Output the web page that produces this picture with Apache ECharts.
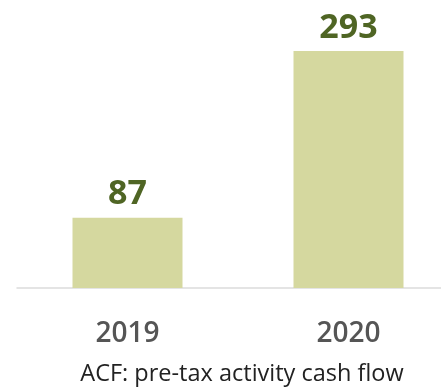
<!DOCTYPE html>
<html>
<head>
<meta charset="utf-8">
<script src="https://cdn.jsdelivr.net/npm/echarts@6/dist/echarts.min.js"></script>
<style>
  html, body { margin: 0; padding: 0; background: #fff; }
  #main { width: 441px; height: 388px; }
</style>
</head>
<body>
<div id="main"></div>
<script>
// 年份与数值
var years = ["2019", "2020"];
var values = [87, 293];
var caption = "ACF: pre-tax activity cash flow";

var chart = echarts.init(document.getElementById("main"));
var option = {
  animation: false,
  grid: {
    left: 17,
    width: 442,
    top: 5,
    bottom: 100,
    outerBoundsMode: "none"
  },
  title: {
    text: caption,
    left: 237,
    textAlign: "center",
    top: 357,
    textStyle: {
      fontFamily: "Open Sans",
      fontWeight: "normal",
      fontSize: 23.5,
      color: "#222"
    }
  },
  xAxis: {
    type: "category",
    data: years,
    axisLine: { lineStyle: { color: "#dcdcdc", width: 1.5 } },
    axisTick: { show: false },
    axisLabel: {
      margin: 32,
      fontFamily: "Open Sans",
      fontWeight: 600,
      fontSize: 28,
      color: "#555"
    }
  },
  yAxis: {
    type: "value",
    min: 0,
    max: 350,
    show: false
  },
  series: [
    {
      type: "bar",
      data: values,
      barWidth: 110,
      itemStyle: { color: "#d5d89f" },
      label: {
        show: true,
        position: "top",
        distance: 6,
        fontFamily: "Open Sans",
        fontWeight: "bold",
        fontSize: 34,
        color: "#4f6524"
      }
    }
  ]
};
chart.setOption(option);
</script>
</body>
</html>
